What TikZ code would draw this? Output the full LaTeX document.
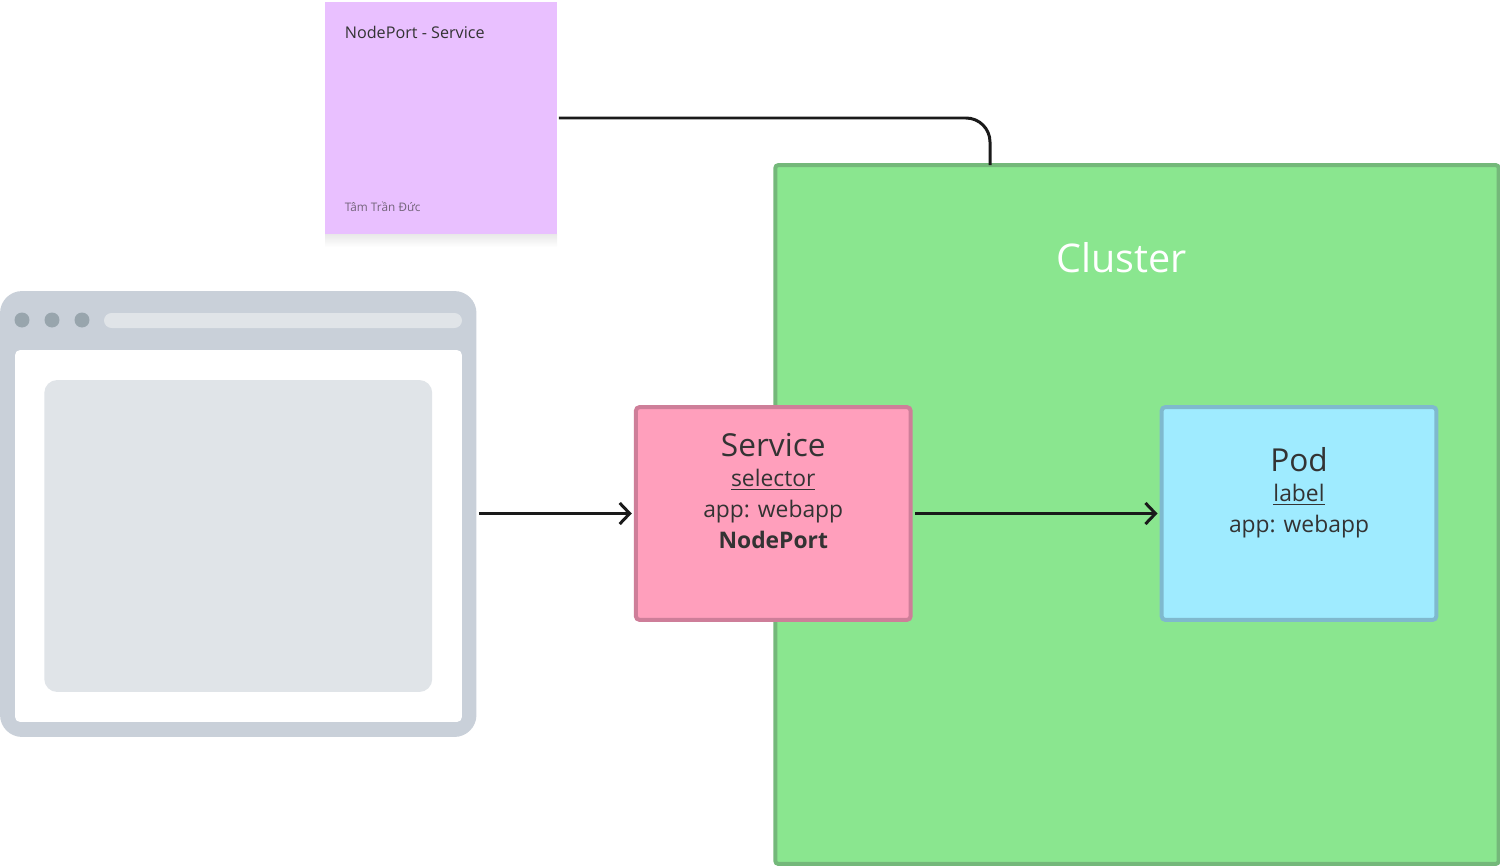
\documentclass[tikz,border=0pt]{standalone}
\usepackage{fontspec}
\setmainfont{Open Sans}
\usetikzlibrary{arrows.meta}
\definecolor{clusterfill}{HTML}{8AE68F}
\definecolor{clusterline}{HTML}{74B87A}
\definecolor{servicefill}{HTML}{FF9FBC}
\definecolor{serviceline}{HTML}{CE7E99}
\definecolor{podfill}{HTML}{9FEBFF}
\definecolor{podline}{HTML}{7FB9CE}
\definecolor{notefill}{HTML}{E9C0FF}
\definecolor{framefill}{HTML}{C9D0D9}
\definecolor{panelfill}{HTML}{E0E4E8}
\definecolor{dotfill}{HTML}{98A5AD}
\definecolor{inktext}{HTML}{333333}
\definecolor{linkline}{HTML}{1A1A1A}
\tikzset{
  box/.style={draw, rectangle, rounded corners=0.08cm, line width=0.08cm, align=center,
    text=inktext, font=\fontsize{13}{17.6}\selectfont},
  flat/.style={rectangle, inner sep=0pt, outer sep=0pt},
  link/.style={line width=0.06cm, color=linkline},
  arrowlink/.style={link, -{Straight Barb[length=0.2cm,width=0.42cm,line width=0.06cm]},
    shorten <=0.05cm, shorten >=0.04cm}
}
\newcommand{\titletext}[1]{{\fontsize{18}{20}\selectfont #1}}
\newcommand{\lined}[1]{\underline{#1}}
\begin{document}
\begin{tikzpicture}[x=0.02cm,y=-0.02cm]
  \useasboundingbox (0,0) rectangle (1500,865);
  % cluster
  \draw
    (1137,514.5) node[box, draw=clusterline, fill=clusterfill, minimum width=14.47cm, minimum height=13.98cm, rounded corners=0.06cm] (cluster){}
    (1121.5,258) node[text=white, font=\fontsize{22.5}{24}\selectfont] (clustertitle){Cluster};
  \coordinate (clustertop) at (990,165);
  % sticky note
  \shade[top color=black!9, bottom color=white] (325,234) rectangle (557,247);
  \draw
    (441,118) node[flat, fill=notefill, minimum width=4.64cm, minimum height=4.64cm] (note){}
    (344.5,32.5) node[anchor=west, inner sep=0pt, text=inktext, font=\fontsize{9.2}{10}\selectfont] (notetitle){NodePort - Service}
    (344.5,206.5) node[anchor=west, inner sep=0pt, text=inktext!65!notefill, font=\fontsize{6.7}{8}\selectfont] (noteauthor){Tâm Trần Đức};
  % browser window
  \draw
    (238.25,514) node[flat, fill=framefill, minimum width=9.53cm, minimum height=8.92cm, rounded corners=0.44cm] (browser){}
    (238.5,536) node[flat, fill=white, minimum width=8.94cm, minimum height=7.44cm, rounded corners=0.1cm] (page){}
    (238.25,536) node[flat, fill=panelfill, minimum width=7.76cm, minimum height=6.24cm, rounded corners=0.26cm] (panel){}
    (283,320.5) node[flat, fill=panelfill, minimum width=7.16cm, minimum height=0.3cm, rounded corners=0.15cm] (addressbar){};
  \foreach \i/\x in {1/22,2/52,3/82}
    \node[flat, circle, fill=dotfill, minimum size=0.3cm] (dot\i) at (\x,320) {};
  % service and pod
  \draw
    (773.25,513.5) node[box, draw=serviceline, fill=servicefill, minimum width=5.5cm, minimum height=4.26cm] (service){\titletext{Service}\\[-0.5pt]\lined{selector}\\app: webapp\\\textbf{NodePort}\\[8.5pt]~}
    (1299,513.5) node[box, draw=podline, fill=podfill, minimum width=5.5cm, minimum height=4.26cm] (pod){\titletext{Pod}\\[-0.5pt]\lined{label}\\app: webapp\\[9pt]~};
  \begin{scope}[link]
    \draw[rounded corners=0.48cm, shorten <=0.04cm] (note.east) -| (clustertop);
    \draw[arrowlink] (browser.east |- service.west) -- (service.west);
    \draw[arrowlink] (service.east) -- (pod.west);
  \end{scope}
\end{tikzpicture}
\end{document}
